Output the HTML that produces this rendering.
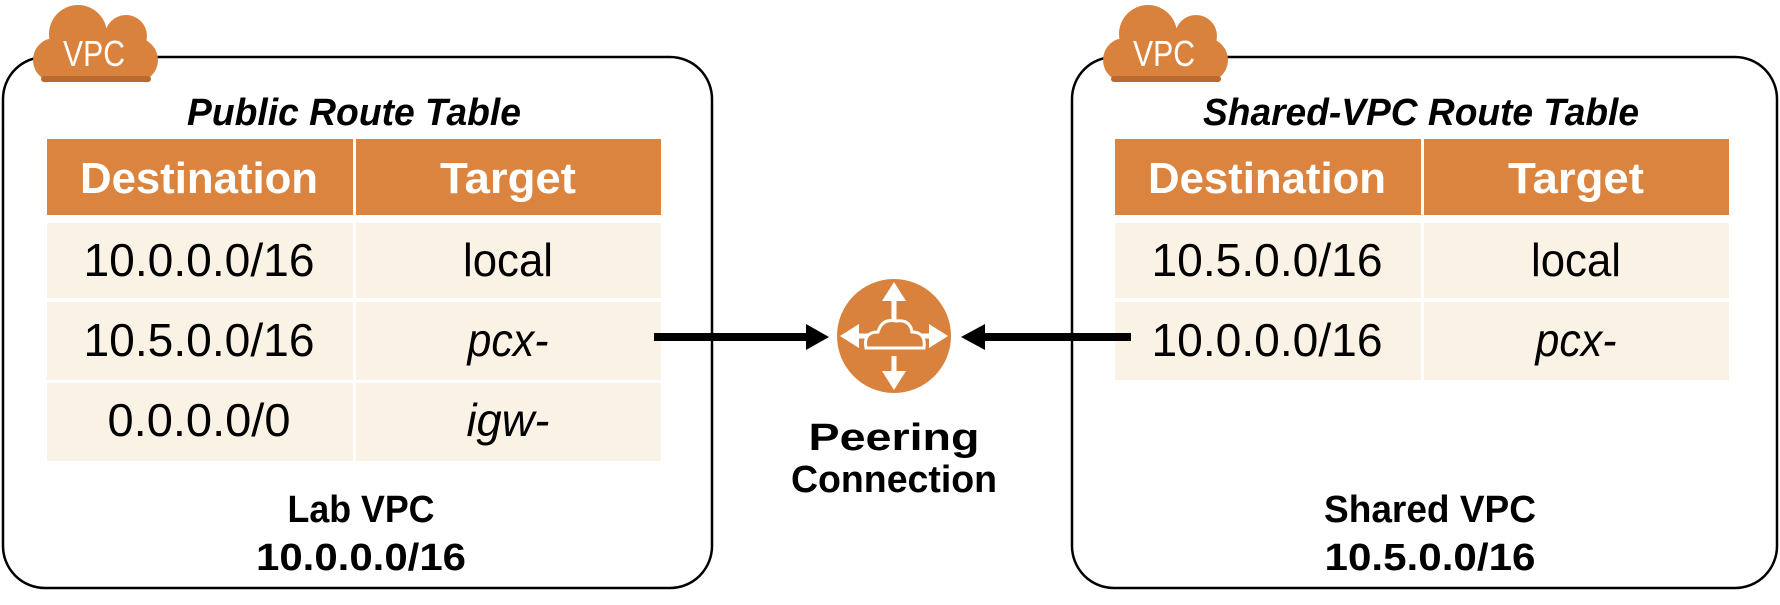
<!DOCTYPE html>
<html><head><meta charset="utf-8"><style>
body{margin:0;background:#fff;}
svg{display:block}
text{font-family:"Liberation Sans",sans-serif;}
</style></head><body>
<svg width="1780" height="605" viewBox="0 0 1780 605" xmlns="http://www.w3.org/2000/svg">
<defs>
<g id="cloud">
  <rect x="0" y="36" width="125" height="44" rx="22" fill="#D9823E"/>
  <circle cx="45" cy="32" r="29" fill="#D9823E"/>
  <circle cx="93" cy="34" r="21" fill="#D9823E"/>
  <rect x="8" y="74" width="110" height="6" rx="3" fill="#B86A30"/>
  <text x="61" y="64" font-size="36" fill="#fff" text-anchor="middle" textLength="62" lengthAdjust="spacingAndGlyphs">VPC</text>
</g>
</defs>

<!-- Left VPC -->
<rect x="3" y="57" width="709" height="531" rx="42" fill="none" stroke="#000" stroke-width="2.5"/>
<use href="#cloud" x="33" y="2"/>
<text x="354" y="125" font-size="38" font-weight="bold" font-style="italic" text-anchor="middle" textLength="334" lengthAdjust="spacingAndGlyphs">Public Route Table</text>
<rect x="47" y="139" width="306" height="76" fill="#DB843F"/>
<rect x="356" y="139" width="305" height="76" fill="#DB843F"/>
<text x="199" y="193" font-size="44" font-weight="bold" fill="#fff" text-anchor="middle" textLength="238" lengthAdjust="spacingAndGlyphs">Destination</text>
<text x="508" y="193" font-size="44" font-weight="bold" fill="#fff" text-anchor="middle" textLength="136" lengthAdjust="spacingAndGlyphs">Target</text>
<g fill="#FBF2E6">
<rect x="47" y="223" width="306" height="75"/><rect x="356" y="223" width="305" height="75"/>
<rect x="47" y="302" width="306" height="78"/><rect x="356" y="302" width="305" height="78"/>
<rect x="47" y="383" width="306" height="78"/><rect x="356" y="383" width="305" height="78"/>
</g>
<g font-size="46" text-anchor="middle" lengthAdjust="spacingAndGlyphs">
<text x="199" y="276" textLength="231" lengthAdjust="spacingAndGlyphs">10.0.0.0/16</text><text x="508" y="276" textLength="90" lengthAdjust="spacingAndGlyphs">local</text>
<text x="199" y="356" textLength="231" lengthAdjust="spacingAndGlyphs">10.5.0.0/16</text><text x="508" y="356" font-style="italic" textLength="81" lengthAdjust="spacingAndGlyphs">pcx-</text>
<text x="199" y="436" textLength="183" lengthAdjust="spacingAndGlyphs">0.0.0.0/0</text><text x="508" y="436" font-style="italic" textLength="83" lengthAdjust="spacingAndGlyphs">igw-</text>
</g>
<text x="361" y="522" font-size="38" font-weight="bold" text-anchor="middle" textLength="147" lengthAdjust="spacingAndGlyphs">Lab VPC</text>
<text x="361" y="570" font-size="38" font-weight="bold" text-anchor="middle" textLength="210" lengthAdjust="spacingAndGlyphs">10.0.0.0/16</text>

<!-- Right VPC -->
<rect x="1072" y="57" width="705" height="531" rx="42" fill="none" stroke="#000" stroke-width="2.5"/>
<use href="#cloud" x="1103" y="2"/>
<text x="1421" y="125" font-size="38" font-weight="bold" font-style="italic" text-anchor="middle" textLength="436" lengthAdjust="spacingAndGlyphs">Shared-VPC Route Table</text>
<rect x="1115" y="139" width="306" height="76" fill="#DB843F"/>
<rect x="1424" y="139" width="305" height="76" fill="#DB843F"/>
<text x="1267" y="193" font-size="44" font-weight="bold" fill="#fff" text-anchor="middle" textLength="238" lengthAdjust="spacingAndGlyphs">Destination</text>
<text x="1576" y="193" font-size="44" font-weight="bold" fill="#fff" text-anchor="middle" textLength="136" lengthAdjust="spacingAndGlyphs">Target</text>
<g fill="#FBF2E6">
<rect x="1115" y="223" width="306" height="75"/><rect x="1424" y="223" width="305" height="75"/>
<rect x="1115" y="302" width="306" height="78"/><rect x="1424" y="302" width="305" height="78"/>
</g>
<g font-size="46" text-anchor="middle">
<text x="1267" y="276" textLength="231" lengthAdjust="spacingAndGlyphs">10.5.0.0/16</text><text x="1576" y="276" textLength="90" lengthAdjust="spacingAndGlyphs">local</text>
<text x="1267" y="356" textLength="231" lengthAdjust="spacingAndGlyphs">10.0.0.0/16</text><text x="1576" y="356" font-style="italic" textLength="81" lengthAdjust="spacingAndGlyphs">pcx-</text>
</g>
<text x="1430" y="522" font-size="38" font-weight="bold" text-anchor="middle" textLength="212" lengthAdjust="spacingAndGlyphs">Shared VPC</text>
<text x="1430" y="570" font-size="38" font-weight="bold" text-anchor="middle" textLength="211" lengthAdjust="spacingAndGlyphs">10.5.0.0/16</text>

<!-- Arrows -->
<rect x="654" y="333" width="155" height="8" fill="#000"/>
<polygon points="806,324 829,337 806,350" fill="#000"/>
<rect x="983" y="333" width="148" height="8" fill="#000"/>
<polygon points="985,324 961,337 985,350" fill="#000"/>

<!-- Router -->
<circle cx="894" cy="336" r="57" fill="#D9823E"/>
<g stroke="#fff" stroke-width="5" fill="none">
<line x1="894" y1="296" x2="894" y2="320"/>
<line x1="894" y1="356" x2="894" y2="378"/>
<line x1="852" y1="336" x2="868" y2="336"/>
<line x1="922" y1="336" x2="936" y2="336"/>
<path d="M866,348 q-3,-16 12,-16 q4,-14 18,-11 q14,-2 16,11 q14,0 12,16 z" stroke-width="3"/>
</g>
<g fill="#fff">
<polygon points="894,282 882,301 906,301"/>
<polygon points="894,390 882,371 906,371"/>
<polygon points="840,336 859,324 859,348"/>
<polygon points="948,336 929,324 929,348"/>
</g>
<text x="894" y="450" font-size="38" font-weight="bold" text-anchor="middle" textLength="171" lengthAdjust="spacingAndGlyphs">Peering</text>
<text x="894" y="492" font-size="38" font-weight="bold" text-anchor="middle" textLength="206" lengthAdjust="spacingAndGlyphs">Connection</text>
</svg>
</body></html>
